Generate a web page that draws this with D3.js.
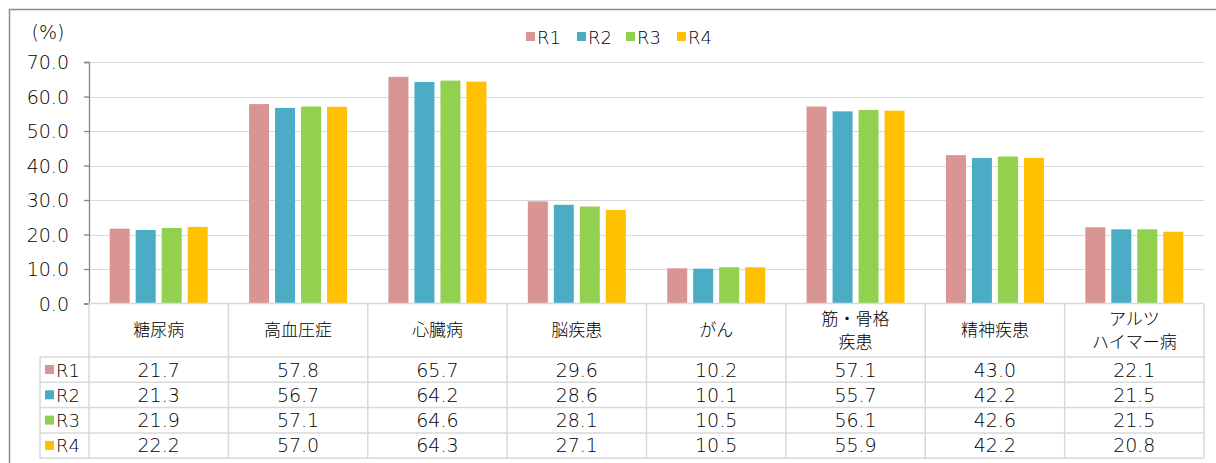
<!DOCTYPE html>
<html>
<head>
<meta charset="utf-8">
<script src="https://cdn.jsdelivr.net/npm/d3@7"></script>
<style>
  html, body { margin: 0; padding: 0; background: #fff; }
  svg { display: block; }
  text { font-family: "Noto Sans CJK JP", "Noto Sans", sans-serif; fill: #000; font-weight: 300; }
  text.num { font-family: "DejaVu Sans", sans-serif; font-weight: 200; }
</style>
</head>
<body>
<svg id="chart" width="1216" height="463"></svg>
<script>
// Disease categories (line breaks shown with "\n")
const categories = ["糖尿病", "高血圧症", "心臓病", "脳疾患", "がん", "筋・骨格\n疾患", "精神疾患", "アルツ\nハイマー病"];
const seriesNames = ["R1", "R2", "R3", "R4"];
const seriesColors = ["#D99594", "#4BACC6", "#92D050", "#FFC000"];
const r1 = [21.7, 57.8, 65.7, 29.6, 10.2, 57.1, 43.0, 22.1];
const r2 = [21.3, 56.7, 64.2, 28.6, 10.1, 55.7, 42.2, 21.5];
const r3 = [21.9, 57.1, 64.6, 28.1, 10.5, 56.1, 42.6, 21.5];
const r4 = [22.2, 57.0, 64.3, 27.1, 10.5, 55.9, 42.2, 20.8];
const seriesValues = [r1, r2, r3, r4];
const yTicks = [0, 10, 20, 30, 40, 50, 60, 70];

const svg = d3.select("#chart");

// Layout
const plotLeft = 89, plotRight = 1204, plotTop = 62, plotBottom = 303.5;
const headerBottom = 357, rowH = 25.3, tableLeft = 40;
const gridColor = "#d9d9d9";
const numSize = "19px";

// Outer frame
svg.append("rect")
  .attr("x", 9.5).attr("y", 9.5).attr("width", 1240).attr("height", 480)
  .attr("fill", "none").attr("stroke", "#8c8c8c").attr("stroke-width", 1.5);

const x = d3.scaleBand().domain(categories).range([plotLeft, plotRight]);
const groupW = x.bandwidth();
const inner = d3.scaleBand().domain(seriesNames)
  .range([(groupW - 104) / 2, (groupW + 104) / 2])
  .paddingInner(6 / 26).paddingOuter(3 / 26);
const y = d3.scaleLinear().domain([0, 70]).range([plotBottom, plotTop]);

// Horizontal gridlines
svg.append("g").selectAll("line").data(yTicks.filter(d => d > 0)).join("line")
  .attr("x1", plotLeft).attr("x2", plotRight)
  .attr("y1", d => Math.round(y(d)) + 0.5).attr("y2", d => Math.round(y(d)) + 0.5)
  .attr("stroke", gridColor).attr("stroke-width", 1.2);

// Y axis
const yAxis = d3.axisLeft(y).tickValues(yTicks).tickSize(5).tickPadding(15)
  .tickFormat(d3.format(".1f"));
const gy = svg.append("g").attr("transform", `translate(${plotLeft},0)`).call(yAxis);
gy.select(".domain").attr("stroke", "#868686").attr("stroke-width", 1.3);
gy.selectAll(".tick line").attr("stroke", "#868686").attr("stroke-width", 1.3);
gy.selectAll(".tick text").attr("class", "num")
  .attr("font-family", null).attr("font-size", null)
  .style("font-size", numSize).attr("fill", "#000").attr("dy", "0.36em");

svg.append("text").attr("class", "num").attr("x", 48).attr("y", 39).attr("text-anchor", "middle")
  .style("font-size", "19px").text("(%)");

// Bars
seriesNames.forEach((s, si) => {
  svg.append("g").selectAll("rect").data(seriesValues[si]).join("rect")
    .attr("x", (d, i) => x(categories[i]) + inner(s))
    .attr("y", d => y(d))
    .attr("width", inner.bandwidth())
    .attr("height", d => y(0) - y(d))
    .attr("fill", seriesColors[si]);
});

// Baseline
svg.append("line").attr("x1", plotLeft).attr("x2", plotRight)
  .attr("y1", plotBottom).attr("y2", plotBottom)
  .attr("stroke", gridColor).attr("stroke-width", 1.5);

// Legend
const legendX = [526, 577, 626, 677];
seriesNames.forEach((s, si) => {
  svg.append("rect").attr("x", legendX[si]).attr("y", 32).attr("width", 9).attr("height", 9)
    .attr("fill", seriesColors[si]);
  svg.append("text").attr("class", "num").attr("x", legendX[si] + 11).attr("y", 43.5)
    .style("font-size", "18px").text(s);
});

// Data table
const tbl = svg.append("g").attr("stroke", gridColor).attr("stroke-width", 1.5);
categories.forEach(c => {
  tbl.append("line").attr("x1", x(c)).attr("x2", x(c))
    .attr("y1", plotBottom).attr("y2", headerBottom + rowH * 4);
});
tbl.append("line").attr("x1", plotRight).attr("x2", plotRight)
  .attr("y1", plotBottom).attr("y2", headerBottom + rowH * 4);
tbl.append("line").attr("x1", tableLeft).attr("x2", tableLeft)
  .attr("y1", headerBottom).attr("y2", headerBottom + rowH * 4);
for (let r = 0; r <= 4; r++) {
  tbl.append("line").attr("x1", tableLeft).attr("x2", plotRight)
    .attr("y1", headerBottom + rowH * r).attr("y2", headerBottom + rowH * r);
}

// Category headers
categories.forEach(c => {
  const lines = c.split("\n");
  const cx = x(c) + groupW / 2;
  const midY = (plotBottom + headerBottom) / 2;
  lines.forEach((ln, li) => {
    svg.append("text").attr("x", cx)
      .attr("y", midY + 6 + (li - (lines.length - 1) / 2) * 23)
      .attr("text-anchor", "middle").style("font-size", "17px").text(ln);
  });
});

// Table rows
seriesNames.forEach((s, si) => {
  const rowY = headerBottom + rowH * si;
  svg.append("rect").attr("x", 45).attr("y", rowY + 8).attr("width", 9).attr("height", 9)
    .attr("fill", seriesColors[si]);
  svg.append("text").attr("class", "num").attr("x", 56).attr("y", rowY + 19.5)
    .style("font-size", "18px").text(s);
  seriesValues[si].forEach((v, i) => {
    svg.append("text").attr("class", "num").attr("x", x(categories[i]) + groupW / 2).attr("y", rowY + 19.5)
      .attr("text-anchor", "middle").style("font-size", numSize).text(v.toFixed(1));
  });
});
</script>
</body>
</html>
